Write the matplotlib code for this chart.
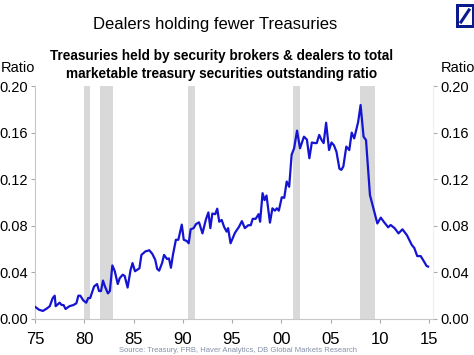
import matplotlib
matplotlib.use("Agg")
import matplotlib.pyplot as plt
from matplotlib.patches import Rectangle
from matplotlib.lines import Line2D

plt.rcParams['font.family'] = ['Liberation Sans', 'DejaVu Sans']

# Dealers' share of marketable Treasuries
fechas = [1975.0, 1975.4, 1975.8, 1976.2, 1976.5, 1976.8, 1977.0, 1977.1, 1977.5, 1977.7,
          1977.9, 1978.1, 1978.5, 1978.9, 1979.2, 1979.4, 1979.6, 1979.9, 1980.2, 1980.4,
          1980.6, 1981.0, 1981.3, 1981.5, 1981.7, 1981.9, 1982.1, 1982.4, 1982.6, 1982.85,
          1983.1, 1983.4, 1983.6, 1983.9, 1984.1, 1984.4, 1984.7, 1984.9, 1985.15, 1985.6,
          1985.8, 1986.2, 1986.6, 1986.9, 1987.2, 1987.4, 1987.6, 1987.9, 1988.1, 1988.4,
          1988.6, 1988.8, 1989.0, 1989.3, 1989.55, 1989.9, 1990.1, 1990.4, 1990.6, 1990.8,
          1991.1, 1991.35, 1991.65, 1992.0, 1992.35, 1992.6, 1992.8, 1993.0, 1993.3, 1993.5,
          1993.7, 1993.95, 1994.2, 1994.45, 1994.6, 1994.85, 1995.3, 1995.7, 1996.0, 1996.3,
          1996.65, 1996.9, 1997.1, 1997.4, 1997.7, 1997.85, 1998.1, 1998.3, 1998.5, 1998.85,
          1999.1, 1999.35, 1999.55, 1999.75, 2000.05, 2000.3, 2000.55, 2000.8, 2001.05, 2001.3,
          2001.6, 2001.9, 2002.3, 2002.6, 2002.85, 2003.1, 2003.4, 2003.6, 2003.85, 2004.1,
          2004.3, 2004.55, 2004.85, 2005.1, 2005.35, 2005.6, 2005.9, 2006.1, 2006.3, 2006.6,
          2006.9, 2007.15, 2007.4, 2007.8, 2008.05, 2008.35, 2008.6, 2009.0, 2009.35, 2009.75,
          2010.1, 2010.4, 2010.85, 2011.1, 2011.5, 2011.9, 2012.3, 2012.75, 2013.25, 2013.5,
          2013.8, 2014.15, 2014.4, 2014.75, 2014.9]
ratio = [0.0105, 0.008, 0.0069, 0.009, 0.011, 0.018, 0.020, 0.011, 0.014, 0.012,
         0.012, 0.0086, 0.011, 0.012, 0.0135, 0.020, 0.020, 0.016, 0.014, 0.018,
         0.018, 0.028, 0.030, 0.024, 0.024, 0.033, 0.028, 0.022, 0.024, 0.046,
         0.041, 0.030, 0.035, 0.038, 0.037, 0.027, 0.042, 0.048, 0.041, 0.0435,
         0.055, 0.058, 0.059, 0.056, 0.051, 0.043, 0.0415, 0.048, 0.055, 0.0515,
         0.052, 0.044, 0.055, 0.068, 0.068, 0.081, 0.068, 0.067, 0.065, 0.077,
         0.078, 0.0815, 0.083, 0.0735, 0.0855, 0.0915, 0.078, 0.0905, 0.090, 0.0947,
         0.0835, 0.085, 0.079, 0.075, 0.078, 0.065, 0.074, 0.079, 0.084, 0.078,
         0.0805, 0.0805, 0.086, 0.086, 0.090, 0.0835, 0.108, 0.102, 0.106, 0.0827,
         0.095, 0.093, 0.095, 0.093, 0.1045, 0.104, 0.118, 0.1135, 0.141, 0.1465,
         0.1617, 0.1465, 0.1565, 0.154, 0.138, 0.1515, 0.151, 0.151, 0.158, 0.1535,
         0.151, 0.1685, 0.145, 0.1515, 0.149, 0.1436, 0.129, 0.128, 0.131, 0.148,
         0.145, 0.160, 0.155, 0.169, 0.1837, 0.1565, 0.1536, 0.1064, 0.095, 0.082,
         0.087, 0.0835, 0.0787, 0.0807, 0.078, 0.0735, 0.077, 0.072, 0.0635, 0.061,
         0.054, 0.054, 0.0506, 0.0455, 0.045]

# US recessions (shaded)
recesiones = [(1980.0, 1980.55), (1981.55, 1982.9), (1990.55, 1991.2),
              (2001.2, 2001.9), (2007.95, 2009.5)]

ticks_x = [1975, 1980, 1985, 1990, 1995, 2000, 2005, 2010, 2015]
etiquetas_x = ["75", "80", "85", "90", "95", "00", "05", "10", "15"]
ticks_y = [0.00, 0.04, 0.08, 0.12, 0.16, 0.20]

fig = plt.figure(figsize=(4.74, 3.55), dpi=100)
ax = fig.add_axes([35 / 474, 1 - 319 / 355, (433 - 35) / 474, (319 - 86) / 355])

for ini, fin in recesiones:
    ax.axvspan(ini, fin, color='#d9d9d9', lw=0, zorder=0)

ax.plot(fechas, ratio, color='#1414d2', lw=1.6, zorder=3)

ax.set_xlim(1975, 2015.4)
ax.set_ylim(0, 0.2)
ax.set_xticks(ticks_x)
ax.set_xticklabels(etiquetas_x, fontsize=12)
ax.set_yticks(ticks_y)
ax.set_yticklabels([f"{v:.2f}" for v in ticks_y], fontsize=10.5)
ax.tick_params(axis='x', length=3, color='#aaaaaa', pad=6)
ax.tick_params(axis='y', length=3, color='#aaaaaa', pad=2, labelright=True, right=True)

# Spines grises
ax.spines['top'].set_visible(False)
ax.spines['left'].set_color('#c8c8c8')
ax.spines['bottom'].set_color('#c8c8c8')
ax.spines['right'].set_color('#eeeeee')

fig.text(215 / 474, 1 - 25 / 355, "Dealers holding fewer Treasuries",
         ha='center', va='center', fontsize=12)
fig.text(222 / 474, 1 - 65 / 355,
         "Treasuries held by security brokers & dealers to total\nmarketable treasury securities outstanding ratio",
         ha='center', va='center', fontsize=9.8, fontweight='bold', linespacing=1.3)
fig.text(1 / 474, 1 - 68 / 355, "Ratio", ha='left', va='center', fontsize=10.5)
fig.text(441 / 474, 1 - 68 / 355, "Ratio", ha='left', va='center', fontsize=10.5)
fig.text(238 / 474, 1 - 351 / 355,
         "Source: Treasury, FRB, Haver Analytics, DB Global Markets Research",
         ha='center', va='center', fontsize=5.5, color='#8591a8')

# Logo Deutsche Bank
fig.add_artist(Rectangle((456 / 474, 1 - 28 / 355), 18 / 474, 24 / 355,
                         transform=fig.transFigure, facecolor='#0a1a8c', edgecolor='none'))
fig.add_artist(Rectangle((459 / 474, 1 - 24.5 / 355), 12.5 / 474, 17 / 355,
                         transform=fig.transFigure, facecolor='white', edgecolor='none'))
fig.add_artist(Line2D([461 / 474, 469 / 474], [1 - 22 / 355, 1 - 10 / 355],
                      transform=fig.transFigure, color='#0a1a8c', lw=2.2))

fig.savefig("out.png", dpi=100)
